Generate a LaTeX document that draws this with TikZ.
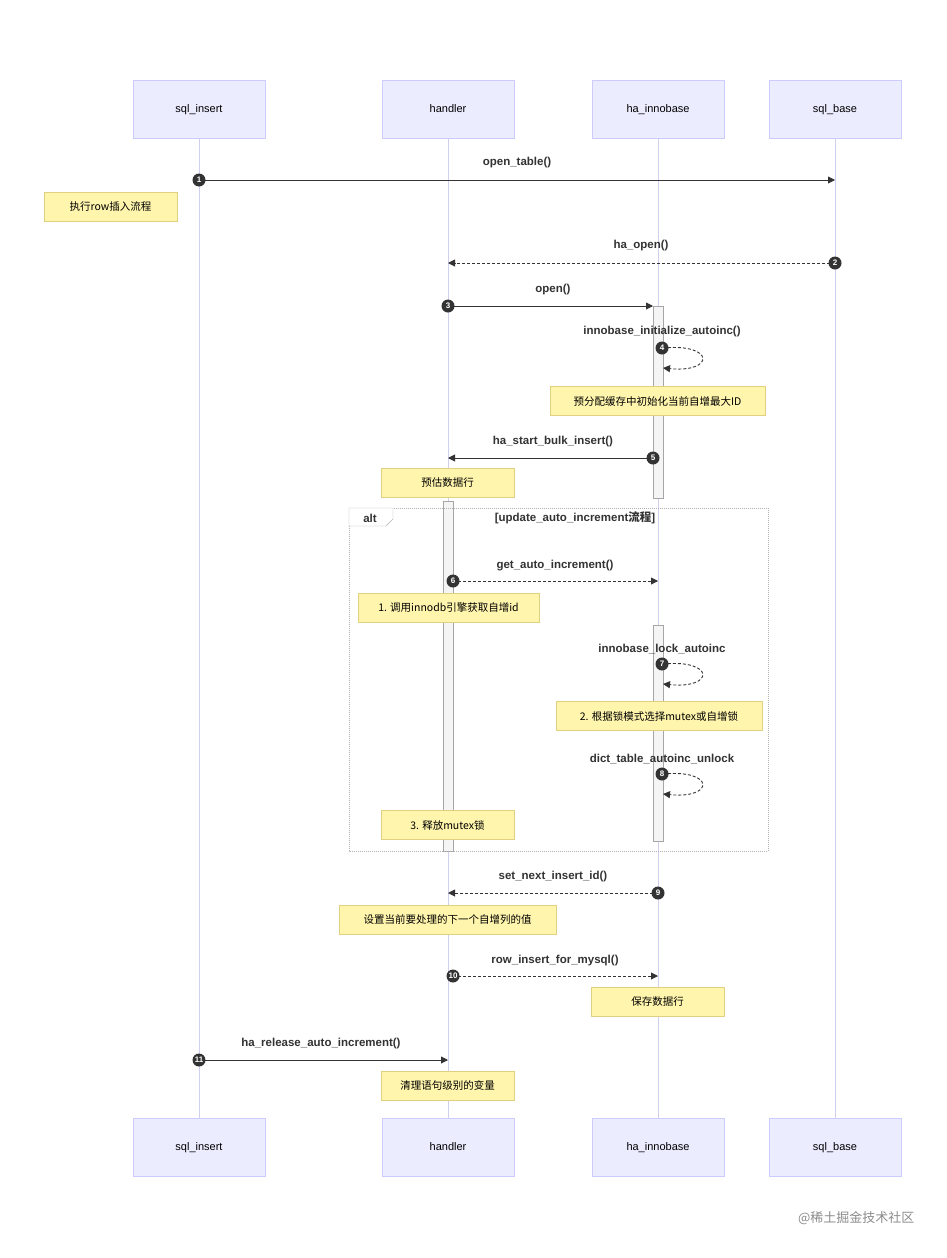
\documentclass[tikz,border=0pt]{standalone}
\usepackage{fontspec}
\setmainfont{Liberation Sans}
\newfontfamily\cjk{Noto Sans CJK SC}
\usetikzlibrary{arrows.meta}
\definecolor{actfill}{HTML}{ECECFF}
\definecolor{actdraw}{HTML}{CCCCFF}
\definecolor{lifec}{HTML}{CFCFF0}
\definecolor{notefill}{HTML}{FFF5AD}
\definecolor{notedraw}{HTML}{E0D080}
\definecolor{ink}{HTML}{333333}
\tikzset{
 actor/.style={draw=actdraw,fill=actfill,minimum width=132pt,minimum height=58pt,font=\fontsize{11}{13}\selectfont,text=black,text height=8pt,text depth=2pt},
 note/.style={draw=notedraw,fill=notefill,minimum height=29pt,font=\cjk\fontsize{10.5}{12}\selectfont,text=black,inner xsep=6pt},
 life/.style={draw=lifec,line width=1pt},
 msg/.style={draw=ink,line width=0.9pt,-{Triangle[length=7pt,width=7pt]}},
 dmsg/.style={msg,dash pattern=on 3pt off 2pt},
 lbl/.style={font=\bfseries\fontsize{11.5}{13}\selectfont,text=ink},
 num/.style={circle,fill=ink,text=white,inner sep=0pt,minimum size=13pt,font=\bfseries\fontsize{8}{9}\selectfont},
 act/.style={draw=gray!70,fill=gray!8},
}
\begin{document}
\begin{tikzpicture}[x=1pt,y=-1pt]
\useasboundingbox (0,0) rectangle (946,1258);
\fill[white] (0,0) rectangle (946,1258);
\foreach \n/\x in {si/199,h/448,ha/658,sb/835}{
 \coordinate (\n t) at (\x,138); \coordinate (\n b) at (\x,1118);
 \draw[life] (\n t) -- (\n b);}
\node[actor] (si1) at (199,109) {sql\_insert};
\node[actor] (h1) at (448,109) {handler};
\node[actor] (ha1) at (658,109) {ha\_innobase};
\node[actor] (sb1) at (835,109) {sql\_base};
\node[actor] (si2) at (199,1147) {sql\_insert};
\node[actor] (h2) at (448,1147) {handler};
\node[actor] (ha2) at (658,1147) {ha\_innobase};
\node[actor] (sb2) at (835,1147) {sql\_base};
\draw[act] (653,306) rectangle (663,498);
\draw[act] (443,501) rectangle (453,851);
\draw[act] (653,625) rectangle (663,841);
\draw[gray!60,dash pattern=on 1pt off 1pt] (349,508) rectangle (768,851);
\draw[gray!60,fill=white] (349,508) -- (393,508) -- (393,519) -- (386,526) -- (349,526) -- cycle;
\node[lbl] (altl) at (370,518) {alt};
\node[lbl] (altc) at (575,518) {[update\_auto\_increment{\cjk 流程}]};
\coordinate (a1) at (199,180); \coordinate (b1) at (835,180);
\coordinate (a2) at (835,263); \coordinate (b2) at (448,263);
\coordinate (a3) at (448,306); \coordinate (b3) at (653,306);
\coordinate (a5) at (653,458); \coordinate (b5) at (448,458);
\coordinate (a6) at (453,581); \coordinate (b6) at (658,581);
\coordinate (a9) at (658,893); \coordinate (b9) at (448,893);
\coordinate (a10) at (448,976); \coordinate (b10) at (658,976);
\coordinate (a11) at (199,1060); \coordinate (b11) at (448,1060);
\draw[msg] (a1) -- (b1); \node[lbl] (l1) at (517,163) {open\_table()};
\draw[dmsg] (a2) -- (b2); \node[lbl] (l2) at (641,246) {ha\_open()};
\draw[msg] (a3) -- (b3); \node[lbl] (l3) at (553,290) {open()};
\draw[dmsg] (663,348) .. controls (715,343) and (715,373) .. (663,368);
\node[lbl] (l4) at (662,332) {innobase\_initialize\_autoinc()};
\draw[msg] (a5) -- (b5); \node[lbl] (l5) at (553,442) {ha\_start\_bulk\_insert()};
\draw[dmsg] (a6) -- (b6); \node[lbl] (l6) at (555,566) {get\_auto\_increment()};
\draw[dmsg] (663,664) .. controls (715,659) and (715,689) .. (663,684);
\node[lbl] (l7) at (662,649) {innobase\_lock\_autoinc};
\draw[dmsg] (663,774) .. controls (715,769) and (715,799) .. (663,794);
\node[lbl] (l8) at (662,759) {dict\_table\_autoinc\_unlock};
\draw[dmsg] (a9) -- (b9); \node[lbl] (l9) at (553,877) {set\_next\_insert\_id()};
\draw[dmsg] (a10) -- (b10); \node[lbl] (l10) at (555,961) {row\_insert\_for\_mysql()};
\draw[msg] (a11) -- (b11); \node[lbl] (l11) at (321,1044) {ha\_release\_auto\_increment()};
\node[num] (n1) at (199,180) {1};
\node[num] (n2) at (835,263) {2};
\node[num] (n3) at (448,306) {3};
\node[num] (n4) at (662,348) {4};
\node[num] (n5) at (653,458) {5};
\node[num] (n6) at (453,581) {6};
\node[num] (n7) at (662,664) {7};
\node[num] (n8) at (662,774) {8};
\node[num] (n9) at (658,893) {9};
\node[num] (n10) at (453,976) {10};
\node[num] (n11) at (199,1060) {11};
\node[note,minimum width=133pt] (t1) at (110.5,206.5) {执行row插入流程};
\node[note,minimum width=215pt] (t2) at (657.5,401) {预分配缓存中初始化当前自增最大ID};
\node[note,minimum width=133pt] (t3) at (447.5,483) {预估数据行};
\node[note,minimum width=181pt] (t4) at (448.5,607.5) {1. 调用innodb引擎获取自增id};
\node[note,minimum width=206pt] (t5) at (659,716) {2. 根据锁模式选择mutex或自增锁};
\node[note,minimum width=133pt] (t6) at (447.5,825) {3. 释放mutex锁};
\node[note,minimum width=217pt] (t7) at (447.5,919.5) {设置当前要处理的下一个自增列的值};
\node[note,minimum width=133pt] (t8) at (657.5,1002) {保存数据行};
\node[note,minimum width=133pt] (t9) at (447.5,1085.5) {清理语句级别的变量};
\node[font=\cjk\fontsize{13}{15}\selectfont,text=gray!90,anchor=east] (wm) at (918,1218) {@稀土掘金技术社区};
\end{tikzpicture}
\end{document}
